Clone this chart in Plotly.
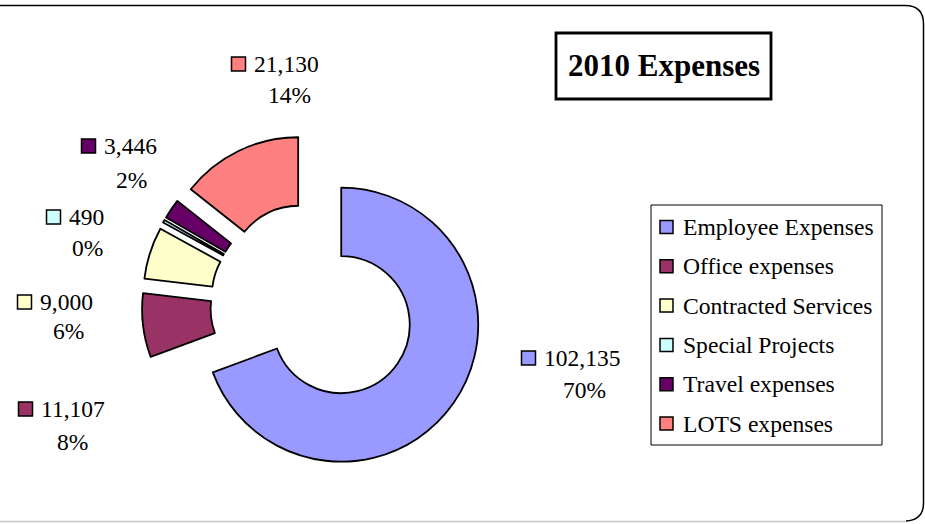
import plotly.graph_objects as go

# --- data -------------------------------------------------------------
categories = ["Employee Expenses", "Office expenses", "Contracted Services",
              "Special Projects", "Travel expenses", "LOTS expenses"]
values = [102135, 11107, 9000, 490, 3446, 21130]
pct_labels = ["70%", "8%", "6%", "0%", "2%", "14%"]
colors = ["#9999FF", "#993366", "#FFFFCC", "#CCFFFF", "#660066", "#FF8080"]

# --- layout constants (pixels in a 925 x 524 canvas) -------------------
W, H = 925, 524
FONT = "Liberation Serif, Times New Roman, serif"
PULL = 0.25
RADIUS = 137
CENTER = (313.1, 305.1)
# value-text left edge, value line y, percent centre x, percent line y
label_pos = [(544, 358, 584, 390), (41, 409, 72.5, 441.5), (40, 302, 68, 331),
             (69, 217, 87, 248), (104, 146, 131, 180), (254, 64, 289, 95)]


def px(x):
    return x / W


def py(y):
    return 1 - y / H


half = RADIUS * (1 + PULL)
domain_x = [px(CENTER[0] - half), px(CENTER[0] + half)]
domain_y = [py(CENTER[1] + half), py(CENTER[1] - half)]

fig = go.Figure(go.Pie(
    labels=categories,
    values=values,
    hole=0.5,
    sort=False,
    direction="clockwise",
    rotation=0,
    pull=[PULL] * len(values),
    marker=dict(colors=colors, line=dict(color="black", width=1.8)),
    textinfo="none",
    hoverinfo="label+value+percent",
    showlegend=False,
    domain=dict(x=domain_x, y=domain_y),
))

shapes = []
annotations = []

# data labels: colour key, value and percentage
for val, pct, col, (tx, ty, pcx, pcy) in zip(values, pct_labels, colors, label_pos):
    kx = tx - 15.5
    shapes.append(dict(type="rect", xref="paper", yref="paper",
                       x0=px(kx - 7), x1=px(kx + 7), y0=py(ty + 7), y1=py(ty - 7),
                       fillcolor=col, line=dict(color="black", width=1.5)))
    annotations.append(dict(text=f"{val:,}", x=px(tx - 2), y=py(ty), xref="paper", yref="paper",
                            xanchor="left", yanchor="middle", showarrow=False,
                            font=dict(family=FONT, size=23.5, color="black")))
    annotations.append(dict(text=pct, x=px(pcx), y=py(pcy), xref="paper", yref="paper",
                            xanchor="center", yanchor="middle", showarrow=False,
                            font=dict(family=FONT, size=23.5, color="black")))

# legend box
LEG = dict(x0=651, x1=882, y0=205, y1=445, key_x=666.5, text_x=683, first=227, step=39.3)
shapes.append(dict(type="rect", xref="paper", yref="paper",
                   x0=px(LEG["x0"]), x1=px(LEG["x1"]), y0=py(LEG["y1"]), y1=py(LEG["y0"]),
                   fillcolor="white", line=dict(color="black", width=1)))
for i, (cat, col) in enumerate(zip(categories, colors)):
    cy = LEG["first"] + i * LEG["step"]
    shapes.append(dict(type="rect", xref="paper", yref="paper",
                       x0=px(LEG["key_x"] - 6.5), x1=px(LEG["key_x"] + 6.5),
                       y0=py(cy + 6.5), y1=py(cy - 6.5),
                       fillcolor=col, line=dict(color="black", width=1.5)))
    annotations.append(dict(text=cat, x=px(LEG["text_x"] - 2), y=py(cy), xref="paper", yref="paper",
                            xanchor="left", yanchor="middle", showarrow=False,
                            font=dict(family=FONT, size=23.6, color="black")))

# title box
shapes.append(dict(type="rect", xref="paper", yref="paper",
                   x0=px(556), x1=px(771), y0=py(99), y1=py(33),
                   fillcolor="white", line=dict(color="black", width=2.8)))
annotations.append(dict(text="<b>2010 Expenses</b>", x=px(663.5), y=py(66), xref="paper", yref="paper",
                        xanchor="center", yanchor="middle", showarrow=False,
                        font=dict(family=FONT, size=31, color="black")))

# chart-area frame with rounded right corners
frame = (f"M {px(0)},{py(5.5)} L {px(905)},{py(5.5)} "
         f"Q {px(923.5)},{py(5.5)} {px(923.5)},{py(24)} "
         f"L {px(923.5)},{py(503)} Q {px(923.5)},{py(520)} {px(906)},{py(521)}")
shapes.append(dict(type="path", xref="paper", yref="paper", path=frame,
                   line=dict(color="black", width=1.5)))
shapes.append(dict(type="line", xref="paper", yref="paper",
                   x0=px(0), x1=px(906), y0=py(521.5), y1=py(521.5),
                   line=dict(color="#C8C8C8", width=1.5)))

fig.update_layout(
    width=W, height=H,
    margin=dict(l=0, r=0, t=0, b=0),
    paper_bgcolor="white",
    plot_bgcolor="white",
    shapes=shapes,
    annotations=annotations,
)

fig.write_html("out.html")
